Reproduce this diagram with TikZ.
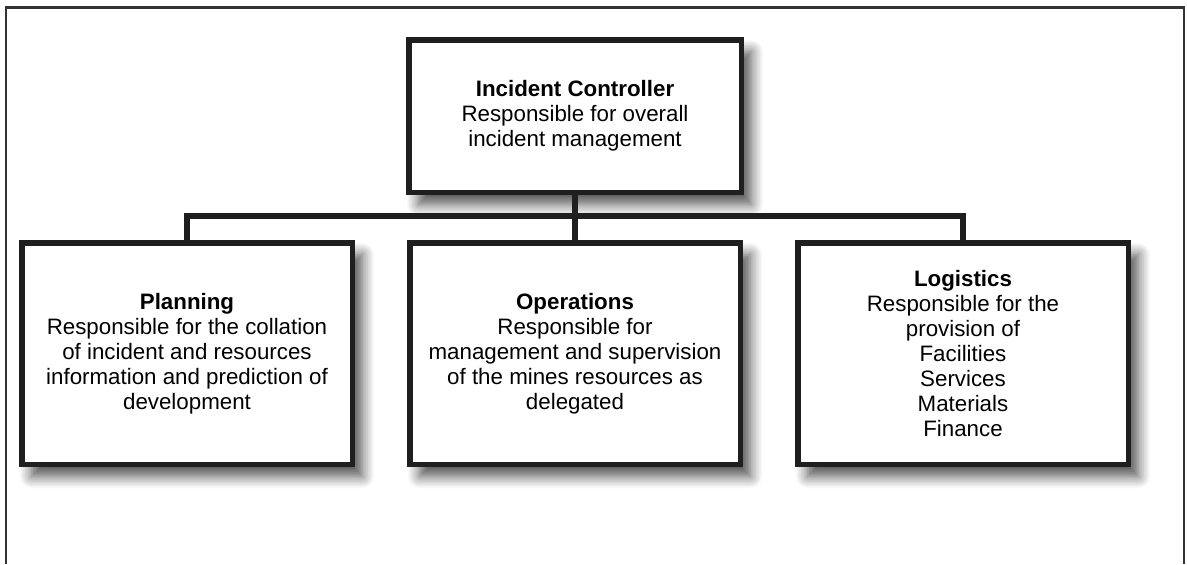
\documentclass[tikz,border=0pt]{standalone}
\usepackage{fontspec}
\setmainfont{Liberation Sans}
\usetikzlibrary{positioning, shadows.blur}

\begin{document}
\begin{tikzpicture}[
    node distance=0.9cm and 1.04cm,
    unit/.style={rectangle, draw=black!88, line width=0.11cm, fill=white, minimum width=6.61cm, minimum height=4.43cm, align=center, font=\fontsize{12.7}{14.2}\selectfont, blur shadow={shadow xshift=0.2cm, shadow yshift=-0.24cm, shadow blur radius=0.24cm, shadow blur steps=8, shadow opacity=70}},
    chief/.style={unit, minimum width=6.65cm, minimum height=3.05cm},
    link/.style={draw=black!88, line width=0.12cm, line join=miter},
    frame/.style={draw=black!80, line width=0.05cm}
]
\useasboundingbox (0,0) rectangle (23.74,-11.28);

% outer frame, open at the bottom
\draw[frame] (0.12,-11.28) -- (0.12,-0.15) -- (23.68,-0.15) -- (23.68,-11.28);

\node[chief] (ctrl) at (11.5,-2.32) {\textbf{Incident Controller}\\Responsible for overall\\incident management};
\node[unit, below=of ctrl] (ops) {\textbf{Operations}\\Responsible for\\management and supervision\\of the mines resources as\\delegated};
\node[unit, left=of ops] (plan) {\textbf{Planning}\\Responsible for the collation\\of incident and resources\\information and prediction of\\development};
\node[unit, right=of ops] (logi) {\textbf{Logistics}\\Responsible for the\\provision of\\Facilities\\Services\\Materials\\Finance};

\coordinate[below=0.42cm of ctrl] (bus);

\draw[link] (ctrl.south) -- (ops.north);
\draw[link] (plan.north) -- (plan.north |- bus) -- (logi.north |- bus) -- (logi.north);
\end{tikzpicture}
\end{document}
